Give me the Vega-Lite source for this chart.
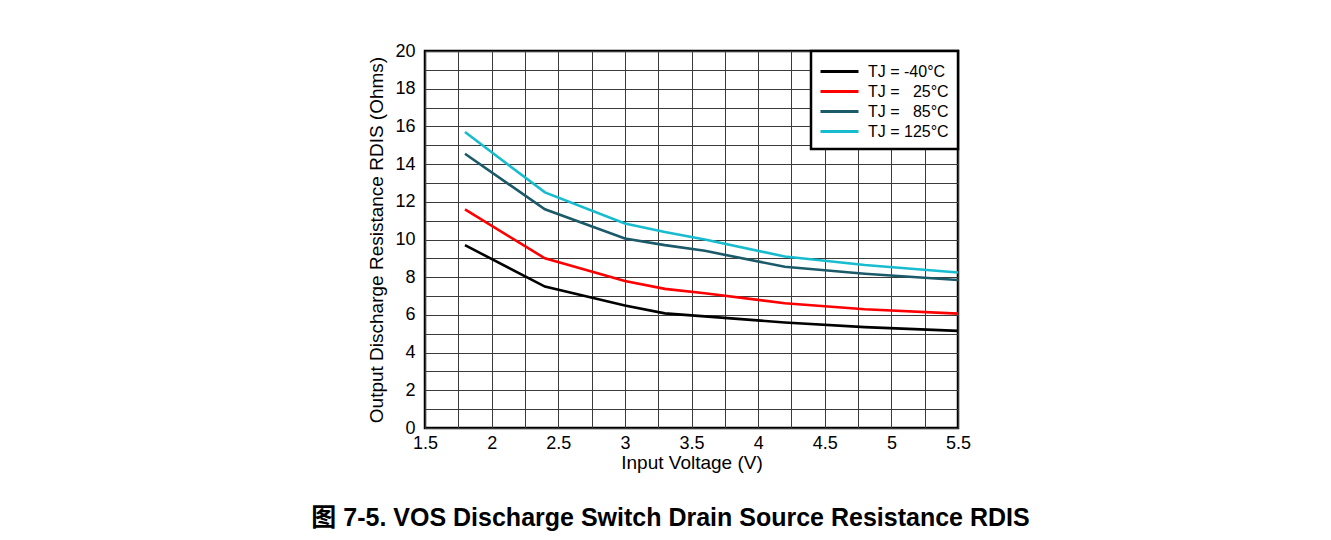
{
  "$schema": "https://vega.github.io/schema/vega-lite/v6.json",
  "autosize": {"type": "none"},
  "padding": {"left": 425, "top": 51, "right": 373, "bottom": 112},
  "width": 533,
  "height": 377,
  "background": "white",
  "title": {
    "text": "图 7-5. VOS Discharge Switch Drain Source Resistance RDIS",
    "orient": "bottom",
    "anchor": "middle",
    "dx": -21,
    "offset": 34,
    "font": "Liberation Sans, Noto Sans CJK SC",
    "fontSize": 25,
    "fontWeight": "bold",
    "color": "black"
  },
  "config": {
    "view": {"stroke": "black", "strokeWidth": 2.5},
    "axis": {
      "labelFont": "Liberation Sans",
      "titleFont": "Liberation Sans",
      "labelFontSize": 18,
      "titleFontSize": 19,
      "titleFontWeight": "normal",
      "labelColor": "black",
      "titleColor": "black",
      "domain": false,
      "ticks": false,
      "gridColor": "#3a3a3a",
      "gridOpacity": 1,
      "gridWidth": 1,
      "format": "~g"
    },
    "legend": {
      "labelFont": "Liberation Sans",
      "labelFontSize": 16,
      "labelColor": "black",
      "strokeColor": "black",
      "strokeWidth": 2.5,
      "fillColor": "white"
    }
  },
  "data": {
    "values": [
      {"v": 1.8, "r": 9.7, "s": "TJ = -40°C"},
      {"v": 2.4, "r": 7.5, "s": "TJ = -40°C"},
      {"v": 3.0, "r": 6.5, "s": "TJ = -40°C"},
      {"v": 3.3, "r": 6.08, "s": "TJ = -40°C"},
      {"v": 3.6, "r": 5.92, "s": "TJ = -40°C"},
      {"v": 4.2, "r": 5.6, "s": "TJ = -40°C"},
      {"v": 4.8, "r": 5.35, "s": "TJ = -40°C"},
      {"v": 5.5, "r": 5.15, "s": "TJ = -40°C"},
      {"v": 1.8, "r": 11.6, "s": "TJ = \u200725°C"},
      {"v": 2.4, "r": 9.0, "s": "TJ = \u200725°C"},
      {"v": 3.0, "r": 7.8, "s": "TJ = \u200725°C"},
      {"v": 3.3, "r": 7.38, "s": "TJ = \u200725°C"},
      {"v": 3.6, "r": 7.15, "s": "TJ = \u200725°C"},
      {"v": 4.2, "r": 6.62, "s": "TJ = \u200725°C"},
      {"v": 4.8, "r": 6.3, "s": "TJ = \u200725°C"},
      {"v": 5.5, "r": 6.07, "s": "TJ = \u200725°C"},
      {"v": 1.8, "r": 14.55, "s": "TJ = \u200785°C"},
      {"v": 2.4, "r": 11.6, "s": "TJ = \u200785°C"},
      {"v": 3.0, "r": 10.05, "s": "TJ = \u200785°C"},
      {"v": 3.3, "r": 9.7, "s": "TJ = \u200785°C"},
      {"v": 3.6, "r": 9.4, "s": "TJ = \u200785°C"},
      {"v": 4.2, "r": 8.55, "s": "TJ = \u200785°C"},
      {"v": 4.8, "r": 8.18, "s": "TJ = \u200785°C"},
      {"v": 5.5, "r": 7.85, "s": "TJ = \u200785°C"},
      {"v": 1.8, "r": 15.7, "s": "TJ = 125°C"},
      {"v": 2.4, "r": 12.5, "s": "TJ = 125°C"},
      {"v": 3.0, "r": 10.85, "s": "TJ = 125°C"},
      {"v": 3.3, "r": 10.4, "s": "TJ = 125°C"},
      {"v": 3.6, "r": 10.0, "s": "TJ = 125°C"},
      {"v": 4.2, "r": 9.1, "s": "TJ = 125°C"},
      {"v": 4.8, "r": 8.65, "s": "TJ = 125°C"},
      {"v": 5.5, "r": 8.25, "s": "TJ = 125°C"}
    ]
  },
  "mark": {"type": "line", "strokeWidth": 2.6, "interpolate": "linear"},
  "encoding": {
    "x": {
      "field": "v",
      "type": "quantitative",
      "scale": {"domain": [1.5, 5.5], "nice": false, "zero": false},
      "axis": {
        "title": "Input Voltage (V)",
        "values": [1.5, 1.75, 2, 2.25, 2.5, 2.75, 3, 3.25, 3.5, 3.75, 4, 4.25, 4.5, 4.75, 5, 5.25, 5.5],
        "labelExpr": "(datum.value * 2) % 1 == 0 ? datum.label : ''",
        "labelPadding": 6,
        "titlePadding": 1,
        "labelFlush": false
      }
    },
    "y": {
      "field": "r",
      "type": "quantitative",
      "scale": {"domain": [0, 20], "nice": false},
      "axis": {
        "title": "Output Discharge Resistance RDIS (Ohms)",
        "values": [0, 1, 2, 3, 4, 5, 6, 7, 8, 9, 10, 11, 12, 13, 14, 15, 16, 17, 18, 19, 20],
        "labelExpr": "datum.value % 2 == 0 ? datum.label : ''",
        "labelPadding": 10,
        "titlePadding": 8,
        "labelFlush": false
      }
    },
    "color": {
      "field": "s",
      "type": "nominal",
      "scale": {
        "domain": ["TJ = -40°C", "TJ = \u200725°C", "TJ = \u200785°C", "TJ = 125°C"],
        "range": ["#000000", "#ff0000", "#1b5a69", "#17bccf"]
      },
      "legend": {
        "title": null,
        "orient": "top-right",
        "offset": 0,
        "padding": 9,
        "symbolType": "M-1.9,0H1.9",
        "symbolSize": 400,
        "symbolStrokeWidth": 3,
        "symbolOffset": 8,
        "rowPadding": -2,
        "labelOffset": 17
      }
    }
  }
}
